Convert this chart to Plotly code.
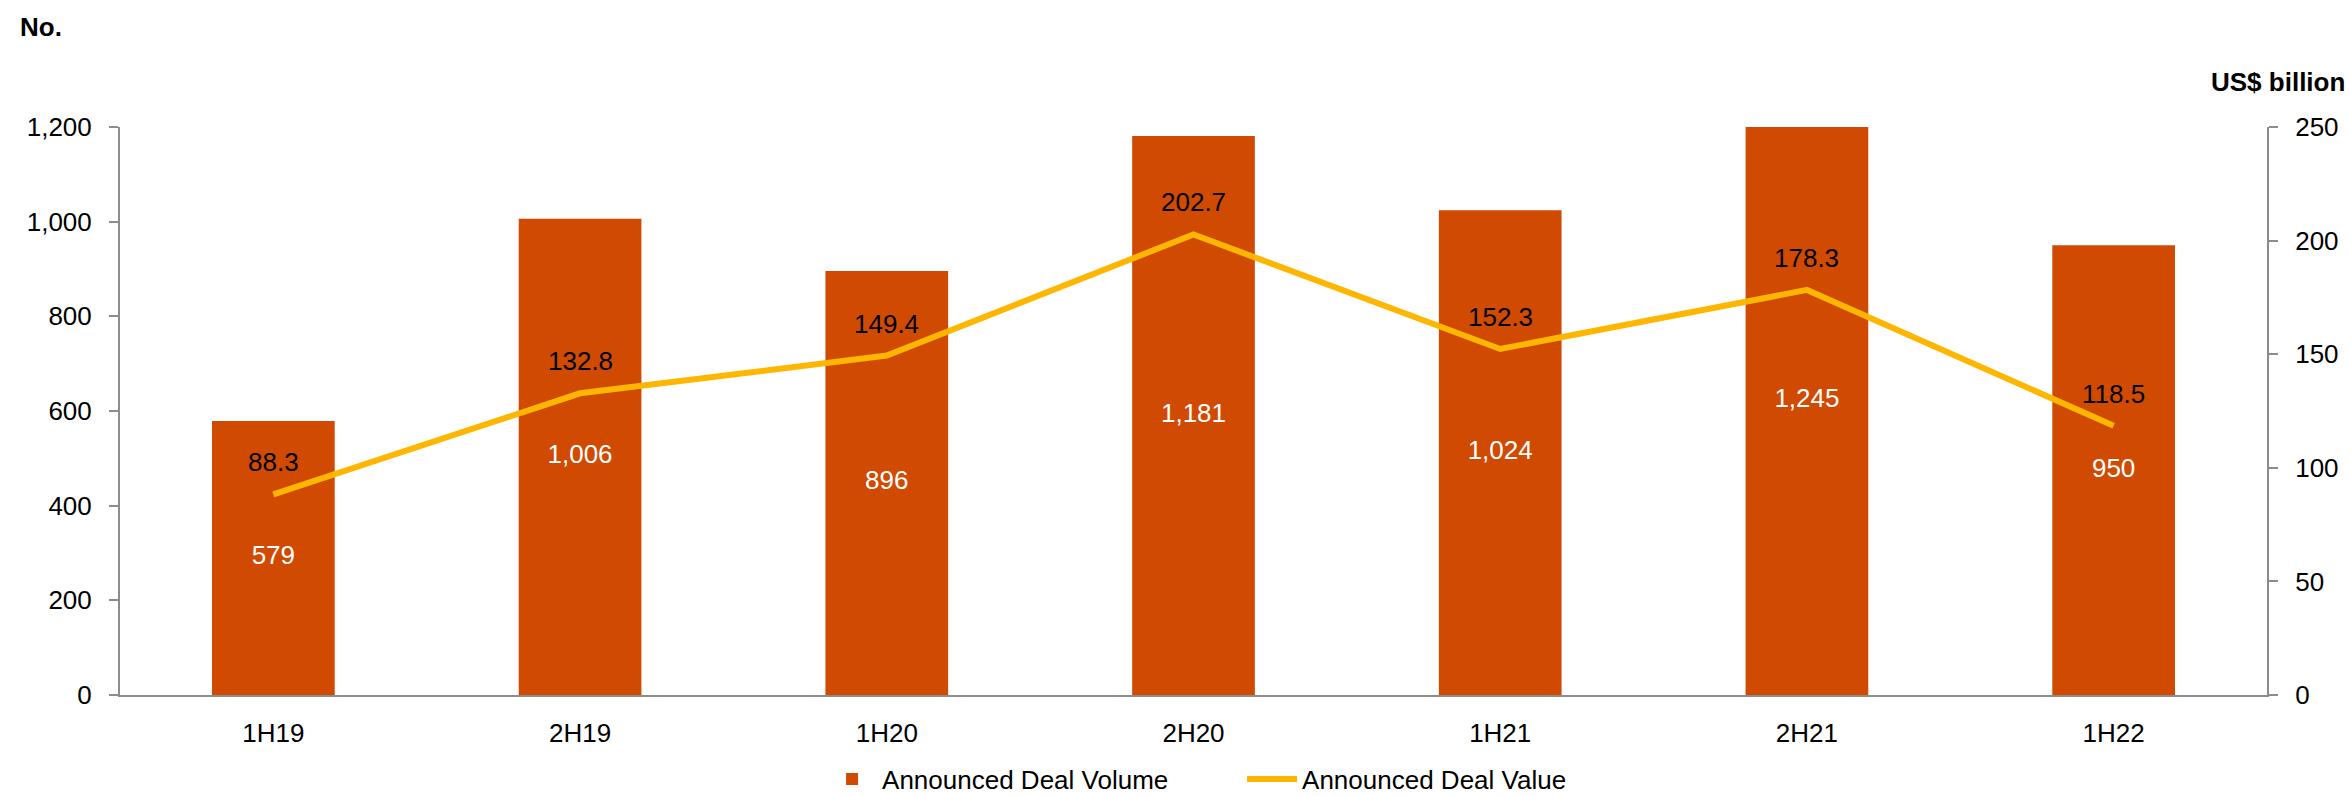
import plotly.graph_objects as go

# Half-year periods
periods = ["1H19", "2H19", "1H20", "2H20", "1H21", "2H21", "1H22"]
# Number of announced deals
deal_volume = [579, 1006, 896, 1181, 1024, 1245, 950]
# Announced deal value, US$ billion
deal_value = [88.3, 132.8, 149.4, 202.7, 152.3, 178.3, 118.5]

ORANGE = "#D04A02"
YELLOW = "#FFB600"
GREY = "#8C8C8C"
FONT = "Liberation Sans, Arial, sans-serif"
FS = 26

fig = go.Figure()

fig.add_trace(go.Bar(
    x=periods, y=deal_volume, name="Announced Deal Volume",
    marker=dict(color=ORANGE, line=dict(width=0)),
    yaxis="y", hoverinfo="skip",
))

# Volume labels, centred in each bar
fig.add_trace(go.Scatter(
    x=periods, y=[v / 2 for v in deal_volume],
    text=[f"{v:,}" for v in deal_volume],
    mode="text", textposition="middle center",
    textfont=dict(color="white", size=FS, family=FONT),
    showlegend=False, yaxis="y", hoverinfo="skip", cliponaxis=False,
))

fig.add_trace(go.Scatter(
    x=periods, y=deal_value, name="Announced Deal Value",
    mode="lines", line=dict(color=YELLOW, width=6),
    yaxis="y2", hoverinfo="skip",
))

annotations = []
for p, v in zip(periods, deal_value):
    annotations.append(dict(
        x=p, y=v, xref="x", yref="y2", text=f"{v:.1f}",
        showarrow=False, yshift=32,
        font=dict(color="black", size=FS, family=FONT),
    ))

annotations.append(dict(
    x=-0.0475, y=1.176, xref="paper", yref="paper", xanchor="left", yanchor="middle",
    text="<b>No.</b>", showarrow=False, font=dict(color="black", size=FS, family=FONT),
))
annotations.append(dict(
    x=1.0373, y=1.079, xref="paper", yref="paper", xanchor="right", yanchor="middle",
    text="<b>US$ billion</b>", showarrow=False, font=dict(color="black", size=FS, family=FONT),
))

fig.update_layout(
    width=2351, height=796,
    margin=dict(l=120, r=84, t=127, b=101, autoexpand=False),
    paper_bgcolor="white", plot_bgcolor="white",
    font=dict(family=FONT, size=FS, color="black"),
    bargap=0.6,
    xaxis=dict(
        showgrid=False, showline=True, linecolor=GREY, linewidth=2,
        ticks="", ticklabelstandoff=14, tickfont=dict(size=FS),
    ),
    yaxis=dict(
        range=[0, 1200], dtick=200, tickformat=",", showgrid=False,
        showline=True, linecolor=GREY, linewidth=2,
        ticks="outside", ticklen=9, tickcolor=GREY, tickwidth=2,
        ticklabelstandoff=12, zeroline=False, tickfont=dict(size=FS),
    ),
    yaxis2=dict(
        range=[0, 250], dtick=50, overlaying="y", side="right", showgrid=False,
        showline=True, linecolor=GREY, linewidth=2,
        ticks="outside", ticklen=9, tickcolor=GREY, tickwidth=2,
        ticklabelstandoff=12, zeroline=False, tickfont=dict(size=FS),
    ),
    legend=dict(
        orientation="h", x=0.327, xanchor="left", y=-0.148, yanchor="middle",
        entrywidth=355, entrywidthmode="pixels", itemwidth=50,
        font=dict(size=FS, family=FONT), bgcolor="rgba(0,0,0,0)",
    ),
    annotations=annotations,
)

fig.write_html("out.html")
